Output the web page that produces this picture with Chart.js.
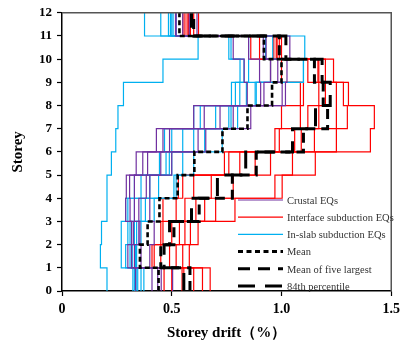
<!DOCTYPE html>
<html>
<head>
<meta charset="utf-8">
<script src="https://cdn.jsdelivr.net/npm/chart.js@4.4.1/dist/chart.umd.min.js"></script>
<style>
  html, body { margin: 0; padding: 0; background: #fff; }
</style>
</head>
<body>
<canvas id="diag-drift" width="405" height="346"></canvas>
<script>
// storey drift (%) of storeys 1..12, one array per record
const crustal = [
  [0.335, 0.30, 0.317, 0.29, 0.293, 0.338, 0.43, 0.60, 0.844, 0.83, 0.78, 0.517],
  [0.41, 0.317, 0.325, 0.31, 0.308, 0.368, 0.46, 0.648, 0.905, 0.90, 0.85, 0.55],
  [0.436, 0.33, 0.35, 0.33, 0.33, 0.39, 0.49, 0.72, 0.92, 0.95, 0.917, 0.52],
  [0.452, 0.36, 0.355, 0.35, 0.384, 0.45, 0.62, 0.78, 1.003, 0.983, 0.93, 0.58],
  [0.504, 0.40, 0.42, 0.40, 0.40, 0.50, 0.655, 0.86, 1.018, 1.025, 1.038, 0.615]
];
const interfaceEQ = [
  [0.465, 0.41, 0.45, 0.46, 0.53, 0.74, 0.97, 1.0, 1.086, 0.95, 0.86, 0.551],
  [0.50, 0.42, 0.46, 0.52, 0.55, 0.76, 0.99, 1.086, 1.1, 1.0, 0.9, 0.56],
  [0.547, 0.45, 0.50, 0.56, 0.60, 0.81, 1.06, 1.12, 1.17, 1.12, 0.965, 0.577],
  [0.555, 0.49, 0.535, 0.61, 0.68, 0.88, 1.09, 1.17, 1.2, 1.166, 0.976, 0.585],
  [0.60, 0.52, 0.56, 0.65, 0.78, 0.95, 1.15, 1.25, 1.25, 1.17, 0.99, 0.6],
  [0.64, 0.55, 0.585, 0.70, 0.97, 1.05, 1.25, 1.30, 1.282, 1.2, 1.0, 0.622],
  [0.675, 0.58, 0.62, 0.788, 1.003, 1.154, 1.405, 1.423, 1.305, 1.237, 0.98, 0.57]
];
const inslab = [
  [0.205, 0.175, 0.18, 0.205, 0.205, 0.225, 0.245, 0.255, 0.28, 0.46, 0.62, 0.376],
  [0.323, 0.27, 0.27, 0.29, 0.33, 0.444, 0.467, 0.60, 0.772, 0.811, 0.76, 0.485],
  [0.33, 0.29, 0.30, 0.30, 0.36, 0.474, 0.50, 0.63, 0.79, 0.829, 0.77, 0.494],
  [0.338, 0.31, 0.31, 0.33, 0.40, 0.489, 0.55, 0.70, 0.81, 0.85, 0.85, 0.45],
  [0.345, 0.32, 0.33, 0.36, 0.44, 0.50, 0.60, 0.76, 0.84, 0.95, 0.927, 0.506],
  [0.373, 0.335, 0.34, 0.38, 0.51, 0.55, 0.65, 0.77, 0.88, 1.10, 0.96, 0.50],
  [0.36, 0.34, 0.36, 0.42, 0.52, 0.60, 0.73, 0.80, 0.885, 1.10, 1.106, 0.52]
];
const meanDrift = [0.44, 0.355, 0.39, 0.444, 0.527, 0.603, 0.731, 0.845, 0.957, 1.0, 0.92, 0.535];
const meanFive = [0.583, 0.45, 0.51, 0.625, 0.776, 0.885, 1.10, 1.21, 1.19, 1.15, 0.99, 0.60];
const pct84 = [0.555, 0.465, 0.49, 0.59, 0.708, 0.837, 1.05, 1.155, 1.222, 1.185, 1.02, 0.59];

const xTicks = [0, 0.5, 1, 1.5];
const legendLabels = ['Crustal EQs', 'Interface subduction EQs', 'In-slab subduction EQs',
  'Mean', 'Mean of five largest', '84th percentile'];

const PURPLE = '#7030A0', RED = '#FF0000', BLUE = '#00B0F0';

// profil en escalier : point (d_i, i-1) puis on monte jusqu'au plancher suivant
function profile(drifts) {
  let pts = drifts.map((d, i) => ({ x: d, y: i }));
  pts.push({ x: drifts[drifts.length - 1], y: drifts.length });
  return pts;
}

function record(drifts, color) {
  return {
    data: profile(drifts), borderColor: color, borderWidth: 1.2,
    showLine: true, stepped: 'after', pointRadius: 0, order: 1
  };
}

function stat(drifts, dash, width) {
  return {
    data: profile(drifts), borderColor: '#000', borderWidth: width, borderDash: dash,
    showLine: true, stepped: 'after', pointRadius: 0, order: 0
  };
}

let datasets = [];
crustal.forEach(d => datasets.push(record(d, PURPLE)));
inslab.forEach(d => datasets.push(record(d, BLUE)));
interfaceEQ.forEach(d => datasets.push(record(d, RED)));
datasets.push(stat(meanDrift, [5, 3], 2.6));
datasets.push(stat(meanFive, [10, 6], 3));
datasets.push(stat(pct84, [18, 10], 3));

// cadre haut / droite
const frame = {
  id: 'frame',
  afterDatasetsDraw(chart) {
    const { ctx, chartArea: a } = chart;
    ctx.save();
    ctx.strokeStyle = '#555';
    ctx.lineWidth = 1.5;
    ctx.beginPath();
    ctx.moveTo(a.left, a.top);
    ctx.lineTo(a.right, a.top);
    ctx.lineTo(a.right, a.bottom);
    ctx.stroke();
    ctx.restore();
  }
};

// légende dans le graphique
const legendBox = {
  id: 'legendBox',
  afterDraw(chart) {
    const ctx = chart.ctx;
    const styles = [
      { c: PURPLE, w: 1.2, d: [] },
      { c: RED, w: 1.2, d: [] },
      { c: BLUE, w: 1.2, d: [] },
      { c: '#000', w: 3, d: [5, 3.5] },
      { c: '#000', w: 3, d: [12, 8] },
      { c: '#000', w: 3, d: [17, 10] }
    ];
    ctx.save();
    ctx.font = '10.5px "Liberation Serif"';
    ctx.textBaseline = 'middle';
    ctx.fillStyle = '#333';
    legendLabels.forEach((txt, i) => {
      const y = 200 + i * 17.2;
      ctx.strokeStyle = styles[i].c;
      ctx.lineWidth = styles[i].w;
      ctx.setLineDash(styles[i].d);
      ctx.beginPath();
      ctx.moveTo(238, y);
      ctx.lineTo(283, y);
      ctx.stroke();
      ctx.fillText(txt, 287, y + 1);
    });
    ctx.restore();
  }
};

const font = { family: '"Liberation Serif", "Times New Roman", serif', weight: 'bold' };

new Chart(document.getElementById('diag-drift'), {
  type: 'scatter',
  data: { datasets: datasets },
  options: {
    responsive: false,
    animation: false,
    layout: { padding: { top: 7, right: 11, left: 0, bottom: 0 } },
    plugins: { legend: { display: false }, tooltip: { enabled: false } },
    scales: {
      x: {
        min: 0, max: 1.5,
        afterFit: s => { s.height = 55; },
        afterBuildTicks: s => { s.ticks = xTicks.map(v => ({ value: v })); },
        ticks: { color: '#000', font: { ...font, size: 14 }, padding: 5, maxRotation: 0 },
        grid: { display: true, drawOnChartArea: false, tickLength: 5, color: '#000', tickWidth: 1.2 },
        border: { color: '#000', width: 1.5 },
        title: { display: true, text: 'Storey drift（%）', color: '#000',
                 font: { ...font, size: 15 }, padding: { top: 0, bottom: 4 } }
      },
      y: {
        min: 0, max: 12,
        afterFit: s => { s.width = 62; },
        ticks: { stepSize: 1, color: '#000', font: { ...font, size: 13 }, padding: 5 },
        grid: { display: true, drawOnChartArea: false, tickLength: 5, color: '#000', tickWidth: 1.2 },
        border: { color: '#000', width: 1.5 },
        title: { display: true, text: 'Storey', color: '#000',
                 font: { ...font, size: 15 }, padding: { top: 9, bottom: 0 } }
      }
    }
  },
  plugins: [frame, legendBox]
});
</script>
</body>
</html>
